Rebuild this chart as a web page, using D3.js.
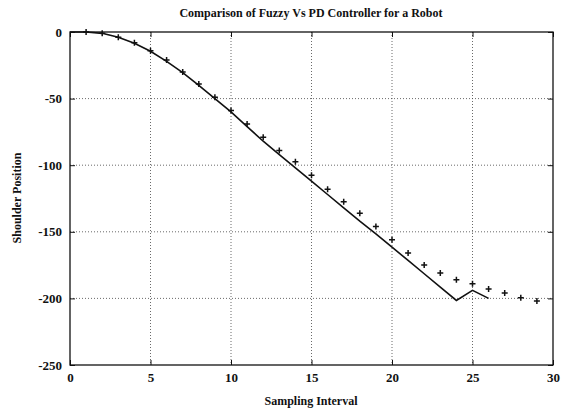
<!DOCTYPE html>
<meta charset="utf-8">
<style>
  body { margin: 0; background: #fff; }
  text { font-family: "Liberation Serif", "DejaVu Serif", serif; fill: #111; }
  .tick text { font-size: 13px; font-weight: bold; }
  .grid line { stroke: #444; stroke-dasharray: 1,2; stroke-width: 0.8; }
</style>
<svg width="573" height="411"></svg>
<script src="https://d3js.org/d3.v7.min.js"></script>
<script>

// PD controller (solid line)
var pdX = [0, 1, 2, 3, 4, 5, 6, 7, 8, 9, 10, 11, 12, 13, 14, 15, 16, 17, 18, 19, 20, 21, 22, 23, 24, 25, 26];
var pdY = [0, 0, -1, -4, -8.5, -14.5, -22, -30.5, -40, -50, -60, -71, -82, -92, -102, -112, -122, -132, -142, -151.5, -161.5, -171.5, -181.5, -191.5, -201.5, -194, -200];

// Fuzzy controller (+ markers)
var fzX = [1, 2, 3, 4, 5, 6, 7, 8, 9, 10, 11, 12, 13, 14, 15, 16, 17, 18, 19, 20, 21, 22, 23, 24, 25, 26, 27, 28, 29];
var fzY = [0, -1, -4, -8, -14, -21, -30, -39, -49, -59, -69, -79, -89, -97.5, -107.5, -118, -127.5, -136, -146, -156, -166, -175, -181, -186, -189, -193, -196, -199.5, -202];

var xTicks = [0, 5, 10, 15, 20, 25, 30];
var yTicks = [0, -50, -100, -150, -200, -250];

var svg = d3.select("svg"),
    pl = 70, pr = 553, pt = 32, pb = 365;

var x = d3.scaleLinear().domain([0, 30]).range([pl, pr]);
var y = d3.scaleLinear().domain([-250, 0]).range([pb, pt]);

// grid
var grid = svg.append("g").attr("class", "grid");
grid.selectAll(".vx").data(xTicks.slice(1, -1)).enter().append("line")
    .attr("x1", d => x(d)).attr("x2", d => x(d)).attr("y1", pt).attr("y2", pb);
grid.selectAll(".hy").data(yTicks.slice(1, -1)).enter().append("line")
    .attr("y1", d => y(d)).attr("y2", d => y(d)).attr("x1", pl).attr("x2", pr);

// axes (ticks inward, MATLAB style)
svg.append("g").attr("transform", "translate(0," + pb + ")")
    .call(d3.axisBottom(x).tickValues(xTicks).tickSize(-5).tickPadding(8).tickFormat(d3.format("d")))
    .call(g => g.select(".domain").remove());
svg.append("g").attr("transform", "translate(" + pl + ",0)")
    .call(d3.axisLeft(y).tickValues(yTicks).tickSize(-5).tickPadding(8).tickFormat(d => d3.format("d")(d).replace("−", "-")))
    .call(g => g.select(".domain").remove());
svg.append("g").attr("transform", "translate(0," + pt + ")")
    .call(d3.axisTop(x).tickValues(xTicks).tickSize(-5).tickFormat(""))
    .call(g => g.select(".domain").remove());
svg.append("g").attr("transform", "translate(" + pr + ",0)")
    .call(d3.axisRight(y).tickValues(yTicks).tickSize(-5).tickFormat(""))
    .call(g => g.select(".domain").remove());
svg.selectAll(".tick line").attr("stroke", "#111");

svg.append("rect").attr("x", pl).attr("y", pt)
    .attr("width", pr - pl).attr("height", pb - pt)
    .attr("fill", "none").attr("stroke", "#111").attr("stroke-width", 1.3);

// PD line
var pts = pdX.map((d, i) => [d, pdY[i]]);
svg.append("path").datum(pts)
    .attr("d", d3.line().x(d => x(d[0])).y(d => y(d[1])))
    .attr("fill", "none").attr("stroke", "#111").attr("stroke-width", 1.6);

// fuzzy markers
svg.append("g").selectAll("path").data(fzX).enter().append("path")
    .attr("d", (d, i) => {
      var cx = x(d), cy = y(fzY[i]), s = 3;
      return "M" + (cx - s) + "," + cy + "H" + (cx + s) + "M" + cx + "," + (cy - s) + "V" + (cy + s);
    })
    .attr("stroke", "#111").attr("stroke-width", 1.5);

// labels
svg.append("text").attr("x", 311).attr("y", 17).attr("text-anchor", "middle")
    .style("font-size", "12px").style("font-weight", "bold")
    .text("Comparison of Fuzzy Vs PD Controller for a Robot");
svg.append("text").attr("x", 311).attr("y", 405).attr("text-anchor", "middle")
    .style("font-size", "12px").style("font-weight", "bold")
    .text("Sampling Interval");
svg.append("text").attr("transform", "translate(21,198) rotate(-90)").attr("text-anchor", "middle")
    .style("font-size", "12px").style("font-weight", "bold")
    .text("Shoulder Position");

</script>
